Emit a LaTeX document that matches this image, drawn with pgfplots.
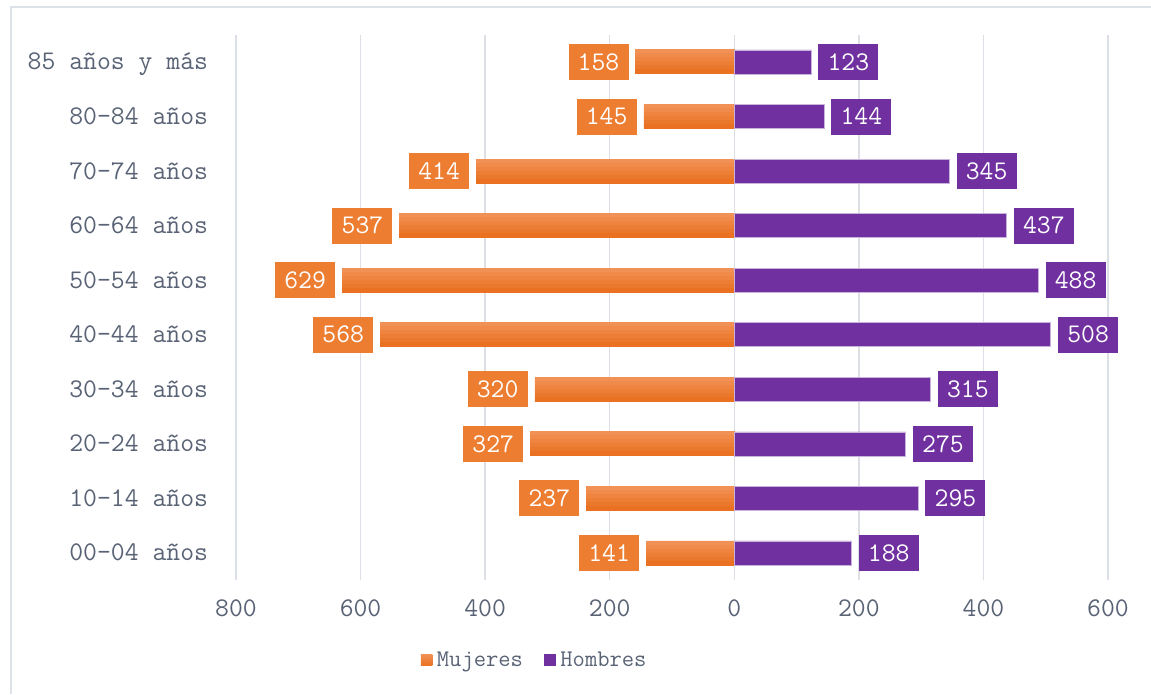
\documentclass[border=0pt]{standalone}
\usepackage{pgfplots}
\pgfplotsset{compat=1.18}
\usepackage{pgfplotstable}
\definecolor{txt}{RGB}{89,99,117}
\definecolor{orng}{RGB}{237,125,49}
\definecolor{oA}{RGB}{241,145,85}
\definecolor{oB}{RGB}{240,139,75}
\definecolor{oC}{RGB}{238,132,64}
\definecolor{oD}{RGB}{236,126,54}
\definecolor{oE}{RGB}{234,120,44}
\definecolor{oF}{RGB}{233,113,33}
\definecolor{purp}{RGB}{112,48,160}
\definecolor{purpE}{RGB}{200,178,222}
\definecolor{gridc}{RGB}{220,224,230}
\definecolor{brd}{RGB}{221,226,233}
\pgfplotstableread{
y m h
0 141 188
1 237 295
2 327 275
3 320 315
4 568 508
5 629 488
6 537 437
7 414 345
8 145 144
9 158 123
}\data
\newcommand{\fmain}{\ttfamily\fontsize{20.2}{22}\selectfont}
\begin{document}
\begin{tikzpicture}
\useasboundingbox (0,0) rectangle (863.25pt,520.5pt);
\draw[brd, line width=1.1pt] (8.25pt,0) -- (8.25pt,515.25pt) -- (863.25pt,515.25pt);
\begin{axis}[
  at={(177pt,85.3pt)}, anchor=south west,
  scale only axis, width=654pt, height=409.2pt,
  xmin=-800, xmax=600, ymin=-0.5, ymax=9.5,
  xbar, bar width=0.0734,
  axis line style={draw=none},
  tick style={draw=none},
  xmajorgrids, grid style={gridc, line width=1.1pt},
  xtick={-800,-600,...,600},
  xticklabels={800,600,400,200,0,200,400,600},
  ytick={0,...,9},
  yticklabels={00-04 años,10-14 años,20-24 años,30-34 años,40-44 años,50-54 años,60-64 años,70-74 años,80-84 años,85 años y más},
  ticklabel style={font=\fmain, text=txt},
  xticklabel style={anchor=base, inner sep=0pt, yshift=-26.8pt},
  yticklabel style={anchor=base east, inner sep=0pt, xshift=-16.5pt, yshift=-6pt},
  legend style={at={(0.344,-0.146)}, anchor=center, draw=none, fill=none,
    legend columns=2, font=\ttfamily\fontsize{17.9}{20}\selectfont, text=txt,
    /tikz/every even column/.append style={column sep=12pt},
    nodes={inner xsep=3.5pt}},
]
% Mujeres: six bands approximating the vertical gradient (top lighter)
\addplot[fill=oA, draw=oA, line width=0.7pt, bar shift=0.1833, forget plot]
  table[x expr=-\thisrow{m}, y=y] {\data};
\addplot[fill=oB, draw=oB, line width=0.7pt, bar shift=0.11, forget plot]
  table[x expr=-\thisrow{m}, y=y] {\data};
\addplot[fill=oC, draw=oC, line width=0.7pt, bar shift=0.0367, forget plot]
  table[x expr=-\thisrow{m}, y=y] {\data};
\addplot[fill=oD, draw=oD, line width=0.7pt, bar shift=-0.0367, forget plot]
  table[x expr=-\thisrow{m}, y=y] {\data};
\addplot[fill=oE, draw=oE, line width=0.7pt, bar shift=-0.11, forget plot]
  table[x expr=-\thisrow{m}, y=y] {\data};
\addplot[fill=oF, draw=oF, line width=0.7pt, bar shift=-0.1833, forget plot]
  table[x expr=-\thisrow{m}, y=y] {\data};
% Mujeres labels (invisible bar, full width)
\addplot[draw=none, fill=none, bar width=0.44, bar shift=0pt,
  legend image code/.code={\fill[top color=oA, bottom color=oF] (0pt,-4.4pt) rectangle (8.6pt,4.4pt);},
  point meta=explicit symbolic,
  nodes near coords={\pgfplotspointmeta},
  nodes near coords style={anchor=east, xshift=-5.3pt, fill=orng, text=white,
    minimum width=45pt, minimum height=27pt, inner sep=0pt, font=\fmain}]
  table[x expr=-\thisrow{m}, y=y, meta=m] {\data};
\addlegendentry{Mujeres}
\addplot[fill=purp, draw=purpE, line width=0.5pt, bar width=0.44, bar shift=0pt,
  legend image code/.code={\fill[purp] (0pt,-4.4pt) rectangle (8.6pt,4.4pt);},
  point meta=explicit symbolic,
  nodes near coords={\pgfplotspointmeta},
  nodes near coords style={anchor=west, xshift=5.3pt, fill=purp, text=white,
    minimum width=45pt, minimum height=27pt, inner sep=0pt, font=\fmain}]
  table[x=h, y=y, meta=h] {\data};
\addlegendentry{Hombres}
\end{axis}
\end{tikzpicture}
\end{document}
